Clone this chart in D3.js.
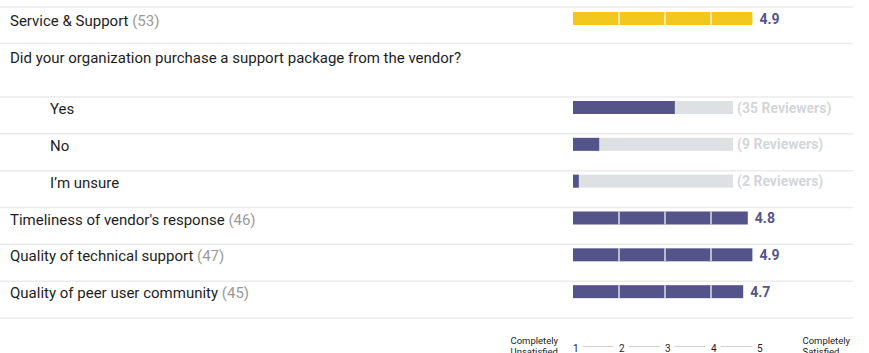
<!DOCTYPE html>
<html>
<head>
<meta charset="utf-8">
<script src="https://cdn.jsdelivr.net/npm/d3@7"></script>
<style>
  html, body { margin: 0; padding: 0; background: #fff; }
  svg { display: block; font-family: Roboto, "Noto Sans", sans-serif; }
</style>
</head>
<body>
<div id="chart"></div>
<script>
// Data
const overallLabel = 'Service & Support';
const overallRating = 4.9;
const overallCount = 53;

const question = 'Did your organization purchase a support package from the vendor?';
const answers = ['Yes', 'No', 'I\u2019m unsure'];
const answerReviewers = [35, 9, 2];
const answerTotal = 55;

const categories = ["Timeliness of vendor's response", 'Quality of technical support', 'Quality of peer user community'];
const ratings = [4.8, 4.9, 4.7];
const counts = [46, 47, 45];

const tickLabels = [1, 2, 3, 4, 5];
const lowLabel = ['Completely', 'Unsatisfied'];
const highLabel = ['Completely', 'Satisfied'];

// Config
const width = 869, height = 353;
const purple = '#54548a';
const yellow = '#f2c81c';
const track = '#dde1e3';
const lineColor = '#ebebeb';
const barH = 13;

const svg = d3.select('#chart').append('svg')
    .attr('width', width)
    .attr('height', height);

// rating scale 1..5
const x = d3.scaleLinear().domain([1, 5]).range([573, 757]);
// share scale for the yes/no bars
const share = d3.scaleLinear().domain([0, answerTotal]).range([573, 733]);

// rows below the question
const rowKeys = answers.concat(categories);
const row = d3.scaleBand().domain(rowKeys).range([97, 318]);

// separators
const seps = [7, 43.5].concat(rowKeys.map(k => row(k)), [318]);
svg.selectAll('.sep')
    .data(seps)
    .enter()
    .append('line')
    .attr('class', 'sep')
    .attr('x1', 0).attr('x2', 853)
    .attr('y1', d => d).attr('y2', d => d)
    .attr('stroke', lineColor)
    .attr('stroke-width', 1.5);

// segmented rating bar
function ratingBar(y0, value, color) {
    svg.append('rect')
        .attr('x', x(1))
        .attr('y', y0)
        .attr('width', x(value) - x(1))
        .attr('height', barH)
        .attr('fill', color);
    // white dividers at each whole point
    [2, 3, 4].filter(v => v < value).forEach(v => {
        svg.append('line')
            .attr('x1', x(v)).attr('x2', x(v))
            .attr('y1', y0).attr('y2', y0 + barH)
            .attr('stroke', '#fff')
            .attr('stroke-width', 1.2);
    });
    svg.append('text')
        .attr('x', x(value) + 7)
        .attr('y', y0 + 11.5)
        .style('font-size', '14px')
        .style('font-weight', 'bold')
        .attr('fill', purple)
        .text(value.toFixed(1));
}

function rowLabel(xPos, y, label, count) {
    const t = svg.append('text')
        .attr('x', xPos)
        .attr('y', y)
        .style('font-size', '15px')
        .attr('fill', '#1e1e1e');
    t.append('tspan').text(label);
    if (count != null) {
        t.append('tspan').attr('fill', '#9a9a9a').text(' (' + count + ')');
    }
}

// Service & Support
rowLabel(10, 26, overallLabel, overallCount);
ratingBar(12, overallRating, yellow);

// question
rowLabel(10, 63, question, null);

// answers
answers.forEach((a, i) => {
    const top = row(a);
    rowLabel(50, top + 17, a, null);
    svg.append('rect')
        .attr('x', share(0)).attr('y', top + 4)
        .attr('width', share(answerTotal) - share(0))
        .attr('height', barH)
        .attr('fill', track);
    svg.append('rect')
        .attr('x', share(0)).attr('y', top + 4)
        .attr('width', share(answerReviewers[i]) - share(0))
        .attr('height', barH)
        .attr('fill', purple);
    svg.append('text')
        .attr('x', share(answerTotal) + 4)
        .attr('y', top + 15.5)
        .style('font-size', '14px')
        .style('font-weight', 'bold')
        .attr('fill', '#d3d6d9')
        .text('(' + answerReviewers[i] + ' Reviewers)');
});

// rated categories
categories.forEach((c, i) => {
    const top = row(c);
    rowLabel(10, top + 17, c, counts[i]);
    ratingBar(top + 4, ratings[i], purple);
});

// scale legend
const legend = svg.append('g');
const lx = v => x(v) + 2.7;
legend.selectAll('.tick')
    .data(tickLabels)
    .enter()
    .append('text')
    .attr('x', d => lx(d))
    .attr('y', 351.5)
    .attr('text-anchor', 'middle')
    .style('font-size', '10px')
    .attr('fill', '#222')
    .text(d => d);
legend.selectAll('.conn')
    .data(tickLabels.slice(0, -1))
    .enter()
    .append('line')
    .attr('x1', d => lx(d) + 7)
    .attr('x2', d => lx(d + 1) - 8)
    .attr('y1', 346.5).attr('y2', 346.5)
    .attr('stroke', '#cfcfcf')
    .attr('stroke-width', 1);

// two-line end labels; the second line runs past the bottom edge as in the original
function twoLine(xPos, lines) {
    const t = legend.append('text')
        .attr('x', xPos)
        .attr('y', 344)
        .style('font-size', '9.5px')
        .attr('fill', '#222');
    lines.forEach((l, i) => {
        t.append('tspan').attr('x', xPos).attr('dy', i ? 11 : 0).text(l);
    });
}
twoLine(510.5, lowLabel);
twoLine(802.5, highLabel);
</script>
</body>
</html>
